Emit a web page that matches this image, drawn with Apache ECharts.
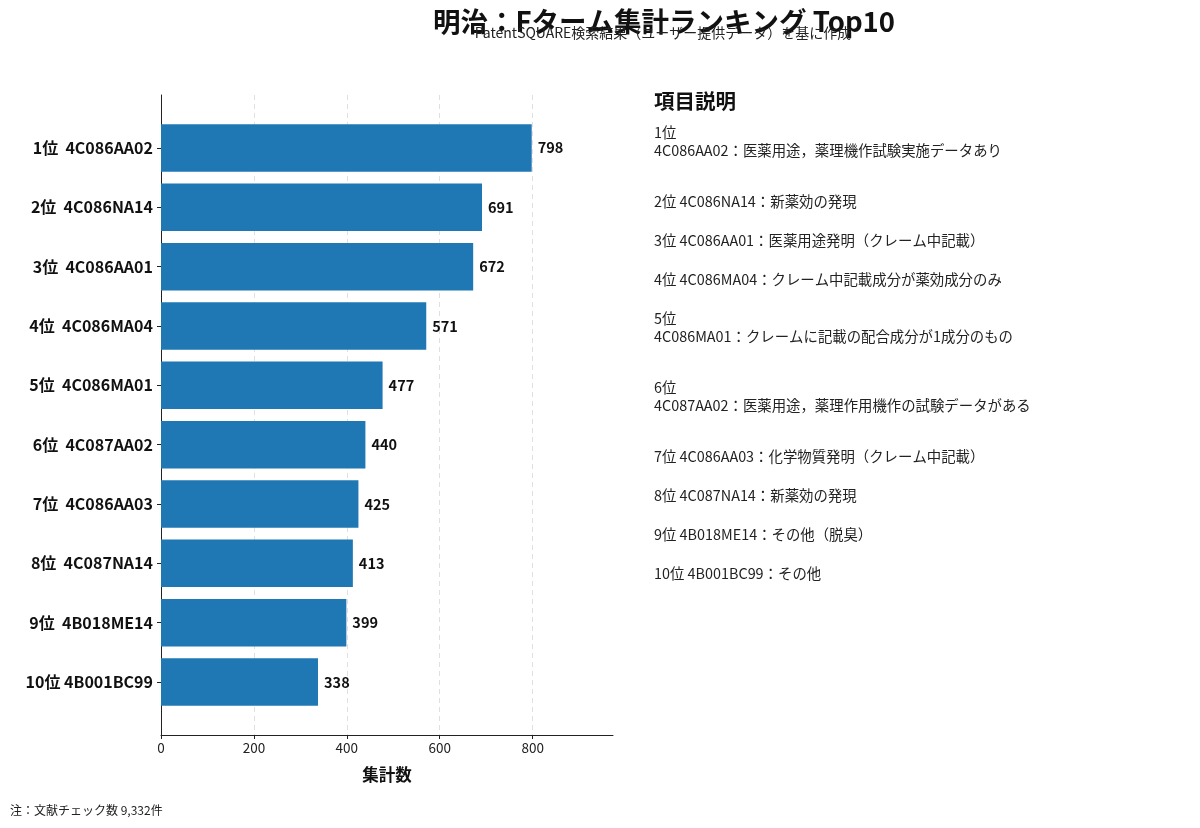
<!DOCTYPE html>
<html>
<head>
<meta charset="utf-8">
<script src="https://cdn.jsdelivr.net/npm/echarts@6/dist/echarts.min.js"></script>
<style>
  html, body { margin: 0; padding: 0; background: #fff; }
  #chart { width: 1200px; height: 828px; }
</style>
</head>
<body>
<div id="chart"></div>
<script>
// ----------------------------------------------------------------------
// data
const categories = [
  '1位  4C086AA02', '2位  4C086NA14', '3位  4C086AA01', '4位  4C086MA04', '5位  4C086MA01',
  '6位  4C087AA02', '7位  4C086AA03', '8位  4C087NA14', '9位  4B018ME14', '10位 4B001BC99'
];
const counts = [798, 691, 672, 571, 477, 440, 425, 413, 399, 338];
const xTicks = [0, 200, 400, 600, 800];
const notes = [
  '1位\n4C086AA02：医薬用途，薬理機作試験実施データあり',
  '2位 4C086NA14：新薬効の発現',
  '3位 4C086AA01：医薬用途発明（クレーム中記載）',
  '4位 4C086MA04：クレーム中記載成分が薬効成分のみ',
  '5位\n4C086MA01：クレームに記載の配合成分が1成分のもの',
  '6位\n4C087AA02：医薬用途，薬理作用機作の試験データがある',
  '7位 4C086AA03：化学物質発明（クレーム中記載）',
  '8位 4C087NA14：新薬効の発現',
  '9位 4B018ME14：その他（脱臭）',
  '10位 4B001BC99：その他'
];

const FONT = '"Noto Sans CJK JP", "Noto Sans", sans-serif';
const X_MAX = 973;

// ----------------------------------------------------------------------
// right-hand notes, stacked top to bottom
const noteGraphics = [];
let noteY = 124;
notes.forEach((t) => {
  const lines = t.split('\n').length;
  noteGraphics.push({
    type: 'text',
    left: 654,
    top: noteY,
    style: { text: t, font: '14.4px ' + FONT, fill: '#222', lineHeight: 18 }
  });
  noteY += lines > 1 ? 69 : 39;
});

const chart = echarts.init(document.getElementById('chart'));

chart.setOption({
  animation: false,
  textStyle: { fontFamily: FONT },
  title: [
    {
      text: '明治：Fターム集計ランキング Top10',
      left: 659, top: 3, textAlign: 'center',
      textStyle: { fontSize: 27.5, fontWeight: 'bold', color: '#111', fontFamily: FONT }
    },
    {
      text: 'PatentSQUARE検索結果（ユーザー提供データ）を基に作成',
      left: 658, top: 21, textAlign: 'center',
      textStyle: { fontSize: 14, fontWeight: 'normal', color: '#222', fontFamily: FONT }
    }
  ],
  // grid 0: frame, x axis, grid lines; grid 1: bars (matplotlib margins)
  grid: [
    { left: 161, top: 95, width: 452, height: 640 },
    { left: 161, top: 118.3, width: 452, height: 593.4 }
  ],
  xAxis: [
    {
      gridIndex: 0, type: 'value', min: 0, max: X_MAX, interval: 200,
      name: '集計数', nameLocation: 'middle', nameGap: 31,
      nameTextStyle: { fontSize: 16.5, fontWeight: 'bold', color: '#111', fontFamily: FONT },
      axisLine: { show: true, lineStyle: { color: '#222', width: 1 } },
      axisTick: { show: true, length: 4, lineStyle: { color: '#222' } },
      axisLabel: {
        fontSize: 13.5, color: '#222', margin: 6, fontFamily: FONT,
        showMaxLabel: false,
        formatter: (v) => (xTicks.includes(v) ? String(v) : '')
      },
      splitLine: {
        show: true, showMinLine: false, showMaxLine: false,
        lineStyle: { type: [5, 4], color: '#e0e0e0', width: 1 }
      }
    },
    {
      gridIndex: 1, type: 'value', min: 0, max: X_MAX,
      show: false
    }
  ],
  yAxis: [
    {
      gridIndex: 0, type: 'value', min: 0, max: 1,
      axisLine: { show: true, lineStyle: { color: '#222', width: 1 } },
      axisTick: { show: false }, axisLabel: { show: false }, splitLine: { show: false }
    },
    {
      gridIndex: 1, type: 'category', data: categories, inverse: true,
      axisLine: { show: false },
      axisTick: { show: true, alignWithLabel: true, length: 4, lineStyle: { color: '#222' } },
      axisLabel: { fontSize: 16, fontWeight: 'bold', color: '#111', margin: 8, fontFamily: FONT },
      splitLine: { show: false }
    }
  ],
  series: [
    {
      type: 'bar',
      xAxisIndex: 1, yAxisIndex: 1,
      data: counts,
      barWidth: '80%',
      itemStyle: { color: '#1f77b4' },
      label: {
        show: true, position: 'right', distance: 6,
        fontSize: 14.5, fontWeight: 'bold', color: '#111', fontFamily: FONT
      }
    }
  ],
  graphic: [
    {
      type: 'text', left: 654, top: 91,
      style: { text: '項目説明', font: 'bold 20.5px ' + FONT, fill: '#111' }
    },
    ...noteGraphics,
    {
      type: 'text', left: 10, top: 804,
      style: { text: '注：文献チェック数 9,332件', font: '12px ' + FONT, fill: '#222' }
    }
  ]
});
</script>
</body>
</html>
